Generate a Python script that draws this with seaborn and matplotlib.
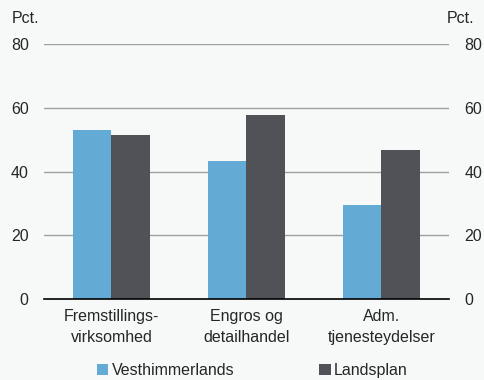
import pandas as pd
import matplotlib.pyplot as plt
import seaborn as sns

categories = ["Fremstillings-\nvirksomhed", "Engros og\ndetailhandel", "Adm.\ntjenesteydelser"]
vesthimmerlands = [53.0, 43.3, 29.5]
landsplan = [51.6, 57.6, 46.7]
series_names = ["Vesthimmerlands", "Landsplan"]
yticks = [0, 20, 40, 60, 80]

BG = "#f7f9f9"
COLORS = ["#63aad5", "#515257"]
FS = 11.5

df = pd.DataFrame({
    "Kategori": categories * 2,
    "Serie": [series_names[0]] * 3 + [series_names[1]] * 3,
    "Pct": vesthimmerlands + landsplan,
})

sns.set_style("white")
plt.rcParams["font.family"] = ["Liberation Sans", "DejaVu Sans"]
plt.rcParams["font.size"] = FS

fig = plt.figure(figsize=(4.85, 3.8), dpi=100, facecolor=BG)
ax = fig.add_axes([0.0907, 0.213, 0.835, 0.671], facecolor=BG)

sns.barplot(data=df, x="Kategori", y="Pct", hue="Serie", palette=COLORS,
            width=0.57, saturation=1, ax=ax, legend=True, linewidth=0)

ax.set_ylim(0, 80)
ax.set_xlim(-0.5, 2.5)
ax.set_yticks(yticks)
ax.set_xlabel("")
ax.set_ylabel("")
for y in yticks[1:]:
    ax.axhline(y, color="#a0a0a0", lw=1, zorder=0)

for s in ["top", "right", "left"]:
    ax.spines[s].set_visible(False)
ax.spines["bottom"].set_color("black")
ax.spines["bottom"].set_linewidth(1.2)

ax.set_xticks([-0.5, 0.5, 1.5, 2.5], minor=False)
ax.set_xticklabels([])
ax.tick_params(axis="x", direction="out", length=4, width=1.2, color="black")
ax.set_xticks([0, 1, 2], minor=True)
ax.set_xticklabels(categories, minor=True, fontsize=FS, linespacing=1.5)
ax.tick_params(axis="x", which="minor", length=0, pad=7)
ax.tick_params(axis="y", length=0, pad=11, labelsize=FS)

ax2 = ax.twinx()
ax2.set_ylim(0, 80)
ax2.set_yticks(yticks)
ax2.tick_params(axis="y", length=0, pad=11, labelsize=FS)
for s in ax2.spines.values():
    s.set_visible(False)

fig.text(0.025, 0.952, "Pct.", fontsize=FS, va="center")
fig.text(0.978, 0.952, "Pct.", fontsize=FS, va="center", ha="right")

handles, labels = ax.get_legend_handles_labels()
ax.get_legend().remove()
fig.legend(handles, labels, loc="center", bbox_to_anchor=(0.52, 0.025), ncol=2,
           frameon=False, fontsize=FS, handlelength=0.75, handleheight=0.75,
           handletextpad=0.2, columnspacing=5.3)

fig.savefig("out.png", dpi=100, facecolor=BG)
